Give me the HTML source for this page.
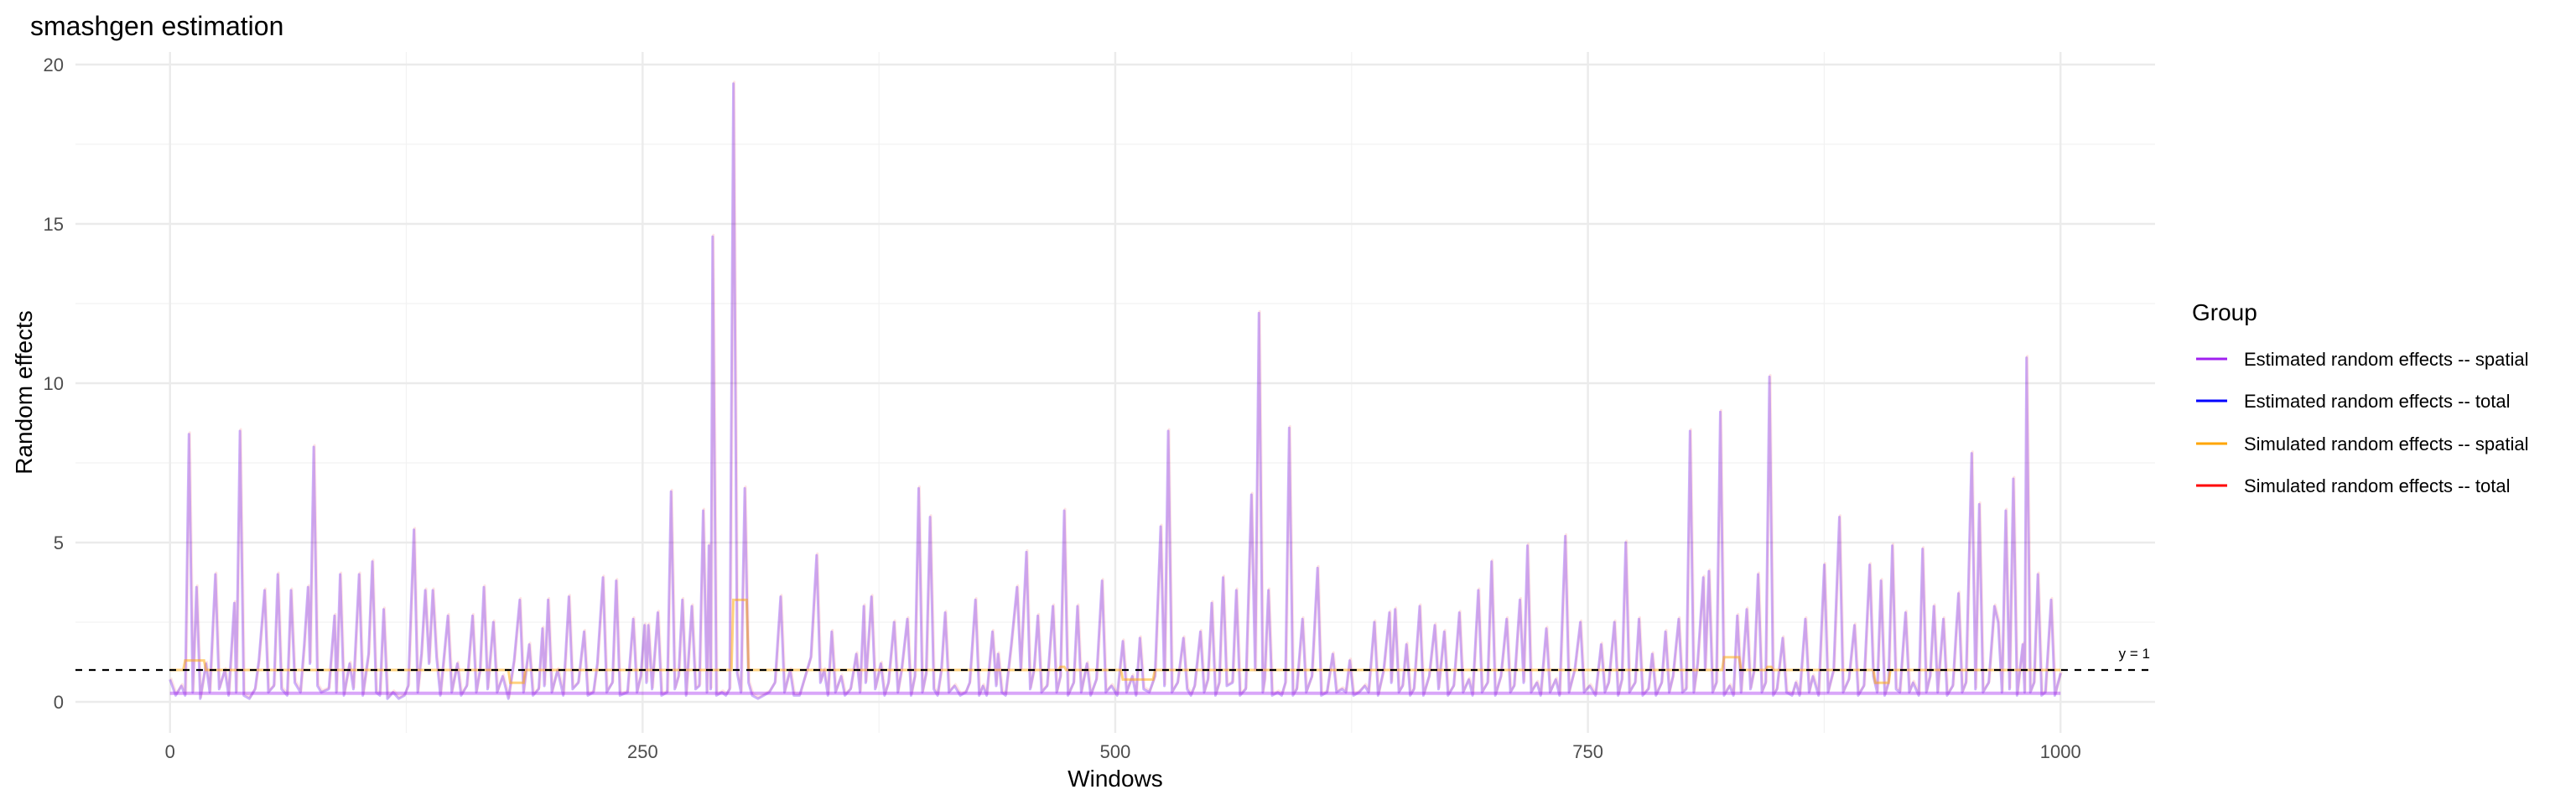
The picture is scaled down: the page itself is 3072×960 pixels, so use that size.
<!DOCTYPE html>
<html><head><meta charset="utf-8"><style>
html,body{margin:0;padding:0;background:#fff;}
svg{display:block;font-family:"Liberation Sans",Arial,sans-serif;}
</style></head><body>
<svg id="chart" width="3072" height="960" viewBox="0 0 3072 960" xmlns="http://www.w3.org/2000/svg">
<rect width="3072" height="960" fill="#fff"/>
<text x="36" y="42" font-size="32" fill="#000">smashgen estimation</text>
<g id="grid"></g>
<g id="series"></g>
<g id="axes"></g>
<text x="1330" y="938" font-size="28" text-anchor="middle" fill="#000">Windows</text>
<text transform="translate(38,468) rotate(-90)" font-size="28" text-anchor="middle" fill="#000">Random effects</text>
<g>
<text x="2614" y="382" font-size="28" fill="#000">Group</text>
<g><line x1="2619" y1="428" x2="2656" y2="428" stroke="#a020f0" stroke-width="3"/><text x="2676" y="436" font-size="22" fill="#000">Estimated random effects -- spatial</text></g>
<g><line x1="2619" y1="478" x2="2656" y2="478" stroke="#0000ff" stroke-width="3"/><text x="2676" y="486" font-size="22" fill="#000">Estimated random effects -- total</text></g>
<g><line x1="2619" y1="529" x2="2656" y2="529" stroke="#ffa500" stroke-width="3"/><text x="2676" y="537" font-size="22" fill="#000">Simulated random effects -- spatial</text></g>
<g><line x1="2619" y1="579" x2="2656" y2="579" stroke="#ff0000" stroke-width="3"/><text x="2676" y="587" font-size="22" fill="#000">Simulated random effects -- total</text></g>
</g>
</svg>
<script>
const xTicks = [0, 250, 500, 750, 1000];
const xMinor = [125, 375, 625, 875];
const yTicks = [0, 5, 10, 15, 20];
const yMinor = [2.5, 7.5, 12.5, 17.5];
const refLine = 1;
const spatialLevel = 0.27;
const windows = [0,3,6,8,10,12,14,16,19,21,24,26,29,31,34,35,37,39,42,45,47,50,52,55,57,59,62,64,66,69,71,73,74,76,78,80,84,87,88,90,92,95,97,100,102,105,107,109,111,113,115,118,121,124,126,129,131,133,135,137,139,141,143,147,149,152,154,157,160,162,164,166,168,171,173,176,179,182,185,187,190,192,195,197,198,200,202,205,208,211,213,216,219,221,224,226,229,231,234,236,238,242,245,247,249,251,252,253,255,258,260,263,265,267,269,271,273,276,278,280,282,284,285,286,287,289,292,294,296,298,300,302,304,306,308,311,314,317,320,323,325,328,330,333,336,339,342,344,346,348,350,352,355,357,360,363,365,367,368,371,373,376,378,380,383,385,387,390,392,394,396,398,400,402,404,406,408,410,412,415,418,421,423,426,428,430,432,435,437,438,440,442,445,448,450,453,455,457,459,461,464,467,469,471,473,475,478,480,482,485,487,490,493,495,498,501,504,506,509,511,513,515,518,521,524,526,528,530,533,536,538,540,542,545,547,549,551,553,555,557,559,562,564,566,569,572,574,576,578,579,581,583,586,588,590,592,594,596,599,601,604,607,609,612,615,617,620,622,624,626,629,632,634,637,639,642,645,646,648,650,652,654,656,658,661,663,666,669,671,674,676,679,682,684,687,689,692,694,697,699,701,704,707,709,711,714,716,718,720,723,725,728,730,733,735,738,740,743,746,748,751,754,757,759,761,764,766,768,770,772,775,777,779,782,784,786,789,791,793,795,798,800,802,804,806,808,811,812,814,816,818,820,822,825,827,829,831,834,836,838,840,842,844,846,848,850,853,855,858,860,862,865,867,869,872,875,877,880,883,885,888,891,893,896,899,901,903,905,907,909,911,913,915,918,920,922,925,927,929,931,933,935,938,940,943,946,948,950,953,955,957,959,962,965,967,969,971,973,975,977,980,981,982,984,986,988,990,992,995,997,1000];
const estimated = [0.7,0.2,0.5,0.2,8.4,0.3,3.6,0.1,1.2,0.3,4.0,0.4,1.0,0.2,3.1,0.3,8.5,0.2,0.1,0.4,1.3,3.5,0.3,0.5,4.0,0.4,0.2,3.5,0.6,0.3,1.8,3.6,1.2,8.0,0.5,0.3,0.4,2.7,0.3,4.0,0.2,1.2,0.4,4.0,0.2,1.5,4.4,0.3,0.2,2.9,0.1,0.3,0.1,0.2,0.5,5.4,0.3,1.5,3.5,1.2,3.5,1.4,0.2,2.7,0.3,1.2,0.2,0.5,2.7,0.3,1.0,3.6,0.4,2.5,0.3,0.8,0.1,1.3,3.2,0.3,1.8,0.2,0.4,2.3,0.5,3.2,0.3,1.0,0.2,3.3,0.4,0.6,2.2,0.2,0.3,1.2,3.9,0.3,0.6,3.8,0.2,0.3,2.6,0.3,0.8,2.4,0.6,2.4,0.4,2.8,0.2,0.3,6.6,0.4,0.8,3.2,0.2,3.0,0.4,0.5,6.0,0.3,4.9,0.4,14.6,0.2,0.3,0.2,0.4,19.4,0.9,0.3,6.7,0.6,0.2,0.1,0.2,0.3,0.6,3.3,0.3,1.0,0.2,0.2,0.8,1.4,4.6,0.6,1.0,0.2,2.2,0.3,0.8,0.2,0.4,1.5,0.3,3.0,0.6,3.3,0.4,1.2,0.2,0.6,2.5,0.3,1.0,2.6,0.2,0.8,6.7,0.3,0.9,5.8,0.4,0.2,1.0,2.8,0.3,0.5,0.2,0.3,0.6,3.2,0.2,0.5,0.2,2.2,0.5,1.5,0.3,0.2,1.8,3.6,1.0,4.7,0.4,1.0,2.7,0.3,0.5,3.0,0.3,0.8,6.0,0.2,0.6,3.0,0.3,1.2,0.2,0.7,3.8,0.3,0.5,0.2,1.9,0.3,0.8,0.2,2.0,0.4,0.3,0.8,5.5,0.5,8.5,0.3,0.6,2.0,0.4,0.2,0.5,2.2,0.3,0.7,3.1,0.2,0.6,3.9,0.5,0.6,3.5,0.2,0.4,6.5,1.0,12.2,0.3,0.7,3.5,0.2,0.3,0.2,0.6,8.6,0.2,0.4,2.6,0.3,0.8,4.2,0.2,0.3,1.5,0.3,0.4,0.3,1.3,0.2,0.3,0.5,0.3,2.5,0.2,1.0,2.8,0.6,2.9,0.3,0.5,1.8,0.2,0.4,3.0,0.2,0.8,2.4,0.4,2.2,0.2,0.5,2.8,0.3,0.7,0.2,3.5,0.3,0.6,4.4,0.2,0.8,2.6,0.3,0.5,3.2,0.6,4.9,0.3,0.6,0.2,2.3,0.3,0.7,0.2,5.2,0.3,1.0,2.5,0.3,0.5,0.2,1.8,0.3,0.6,2.5,0.2,0.7,5.0,0.3,0.6,2.6,0.2,0.4,1.5,0.2,0.6,2.2,0.3,0.8,2.6,0.3,0.4,8.5,0.3,1.2,3.9,1.0,4.1,0.3,0.6,9.1,0.2,0.5,0.2,2.7,0.3,2.9,0.4,1.0,4.0,0.3,0.6,10.2,0.2,0.4,2.0,0.3,0.2,0.6,0.2,2.6,0.3,0.8,0.2,4.3,0.3,1.0,5.8,0.3,0.7,2.4,0.2,0.5,4.3,0.8,0.3,3.8,0.2,0.6,4.9,0.4,0.3,2.8,0.3,0.6,0.2,4.8,0.3,0.8,3.0,0.3,2.6,0.2,0.5,3.4,0.3,0.6,7.8,0.4,6.2,0.3,0.6,3.0,2.5,0.3,6.0,0.4,7.0,0.2,1.8,0.3,10.8,0.3,0.6,4.0,0.2,0.3,3.2,0.2,0.9];
const simSpatialWindows = [0,7,8,18,19,179,180,187,188,297,298,305,306,470,471,473,474,503,504,520,521,821,822,830,831,844,845,847,848,901,902,909,910,1000];
const simSpatial = [1,1,1.3,1.3,1,1,0.6,0.6,1,1,3.2,3.2,1,1,1.1,1.1,1,1,0.7,0.7,1,1,1.4,1.4,1,1,1.1,1.1,1,1,0.6,0.6,1,1];

const X0=90, X1=2570, XMIN=-50, XMAX=1050;
const Y0PX=837, PXPERUNIT=38, PTOP=62, PBOT=874;
function xs(v){return X0+(v-XMIN)/(XMAX-XMIN)*(X1-X0);}
function ys(v){return Y0PX-v*PXPERUNIT;}
const NS="http://www.w3.org/2000/svg";
function mk(tag,attrs,parent){const e=document.createElementNS(NS,tag);for(const k in attrs)e.setAttribute(k,attrs[k]);parent.appendChild(e);return e;}
const grid=document.getElementById('grid'), series=document.getElementById('series'), axes=document.getElementById('axes');

yMinor.forEach(v=>{const l=mk('line',{x1:X0,x2:X1,y1:ys(v),y2:ys(v),stroke:'#f2f2f2','stroke-width':1.2},grid);

});
xMinor.forEach(v=>{const l=mk('line',{x1:xs(v),x2:xs(v),y1:PTOP,y2:PBOT,stroke:'#f2f2f2','stroke-width':1.2},grid);

});
yTicks.forEach(v=>{const l=mk('line',{x1:X0,x2:X1,y1:ys(v),y2:ys(v),stroke:'#ebebeb','stroke-width':2.4},grid);


const t=mk('text',{x:76,y:ys(v)+8,'font-size':22,'text-anchor':'end',fill:'#4d4d4d'},axes);t.textContent=v;

});
xTicks.forEach(v=>{const l=mk('line',{x1:xs(v),x2:xs(v),y1:PTOP,y2:PBOT,stroke:'#ebebeb','stroke-width':2.4},grid);


const t=mk('text',{x:xs(v),y:904,'font-size':22,'text-anchor':'middle',fill:'#4d4d4d'},axes);t.textContent=v;

});

let pts=windows.map((w,i)=>xs(w).toFixed(1)+','+ys(estimated[i]).toFixed(1)).join(' ');
const red=mk('polyline',{points:pts,fill:'none',stroke:'#ff0000','stroke-opacity':0.1,'stroke-width':3,'stroke-linejoin':'round',transform:'translate(1,-2)'},series);


const blue=mk('polyline',{points:pts,fill:'none',stroke:'#0000ff','stroke-opacity':0.15,'stroke-width':3,'stroke-linejoin':'round'},series);


const purple=mk('polyline',{points:pts,fill:'none',stroke:'#a020f0','stroke-opacity':0.2,'stroke-width':3,'stroke-linejoin':'round'},series);


const flat=mk('line',{x1:xs(0),x2:xs(1000),y1:ys(spatialLevel),y2:ys(spatialLevel),stroke:'#a020f0','stroke-opacity':0.4,'stroke-width':4},series);


let sp=simSpatialWindows.map((w,i)=>xs(w).toFixed(1)+','+ys(simSpatial[i]).toFixed(1)).join(' ');
const orange=mk('polyline',{points:sp,fill:'none',stroke:'#ffa500','stroke-opacity':0.5,'stroke-width':3},series);


const ref=mk('line',{x1:X0,x2:X1,y1:ys(refLine),y2:ys(refLine),stroke:'#000','stroke-width':2.2,'stroke-dasharray':'8,8'},series);


const rl=mk('text',{x:2564,y:ys(refLine)-14,'font-size':17,'text-anchor':'end',fill:'#000'},series);rl.textContent='y = 1';


</script>
</body></html>
